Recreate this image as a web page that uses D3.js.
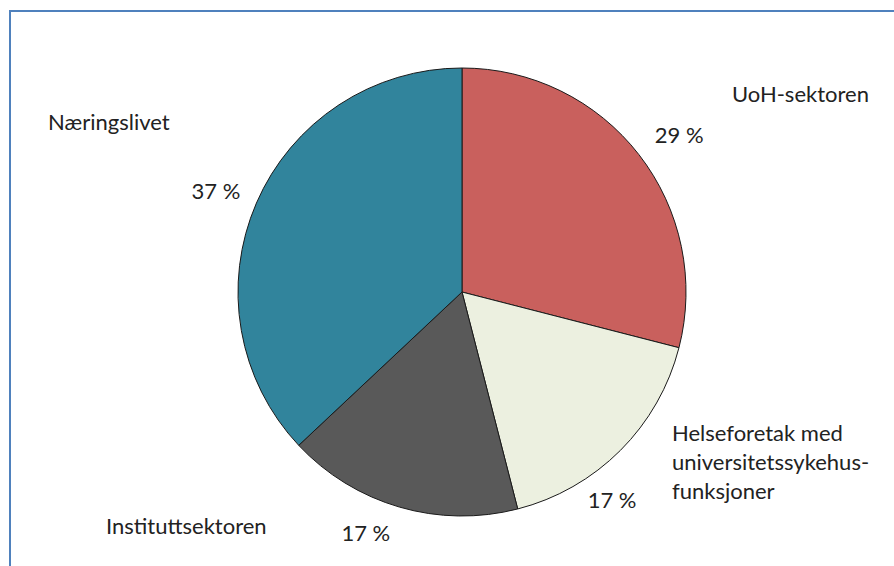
<!DOCTYPE html>
<html>
<head>
<meta charset="utf-8">
<script src="https://cdn.jsdelivr.net/npm/d3@7"></script>
<style>
  html, body { margin: 0; padding: 0; background: #fff; }
  svg { display: block; }
  text { font-family: Lato, "Open Sans", sans-serif; fill: #222; }
</style>
</head>
<body>
<div id="app"></div>
<script>
// sectors, clockwise from 12 o'clock
const sectors = ['UoH-sektoren', 'Helseforetak med universitetssykehus-funksjoner', 'Instituttsektoren', 'Næringslivet']
const labelLines = [['UoH-sektoren'], ['Helseforetak med', 'universitetssykehus-', 'funksjoner'], ['Instituttsektoren'], ['Næringslivet']]
const shares = [29, 17, 17, 37]
const pctLabels = ['29 %', '17 %', '17 %', '37 %']
const colors = ['#c9605d', '#ecf0e0', '#595959', '#31849c']

function main() {
  const width = 894
  const height = 566
  const cx = 462
  const cy = 292
  const radius = 224

  const svg = d3.select('#app')
    .append('svg')
    .attr('width', width)
    .attr('height', height)

  // blue frame (bottom edge runs off the picture)
  svg.append('rect')
    .attr('x', 10)
    .attr('y', 11)
    .attr('width', width)
    .attr('height', height + 20)
    .attr('fill', 'none')
    .attr('stroke', '#4f81bd')
    .attr('stroke-width', 2)

  const pie = d3.pie().sort(null).value((d) => d)
  const arcs = pie(shares)

  const arc = d3.arc().innerRadius(0).outerRadius(radius)
  const labelArc = d3.arc().innerRadius(266).outerRadius(266)

  const g = svg.append('g').attr('transform', `translate(${cx},${cy})`)

  g.selectAll('path')
    .data(arcs)
    .join('path')
    .attr('d', arc)
    .attr('fill', (d, i) => colors[i])
    .attr('stroke', '#1a1a1a')
    .attr('stroke-width', 1)

  // percentage labels, excel-style nudges off the slice mid-angle
  const pctNudge = [[7, 6], [-38, 20], [-22, -14], [-2, 5]]
  g.selectAll('text.pct')
    .data(arcs)
    .join('text')
    .attr('class', 'pct')
    .attr('text-anchor', 'middle')
    .attr('font-size', 22)
    .attr('x', (d, i) => labelArc.centroid(d)[0] + pctNudge[i][0])
    .attr('y', (d, i) => labelArc.centroid(d)[1] + pctNudge[i][1] + 8)
    .text((d, i) => pctLabels[i])

  // category labels (absolute layout)
  const catPos = [[732, 102], [672, 441], [106, 534], [48, 130]]
  const cat = svg.selectAll('text.cat')
    .data(sectors)
    .join('text')
    .attr('class', 'cat')
    .attr('font-size', 22)
    .attr('x', (d, i) => catPos[i][0])
    .attr('y', (d, i) => catPos[i][1])

  cat.selectAll('tspan')
    .data((d, i) => labelLines[i].map((t) => ({ t, x: catPos[i][0] })))
    .join('tspan')
    .attr('x', (d) => d.x)
    .attr('dy', (d, j) => (j === 0 ? 0 : 29))
    .text((d) => d.t)
}

main()
</script>
</body>
</html>
